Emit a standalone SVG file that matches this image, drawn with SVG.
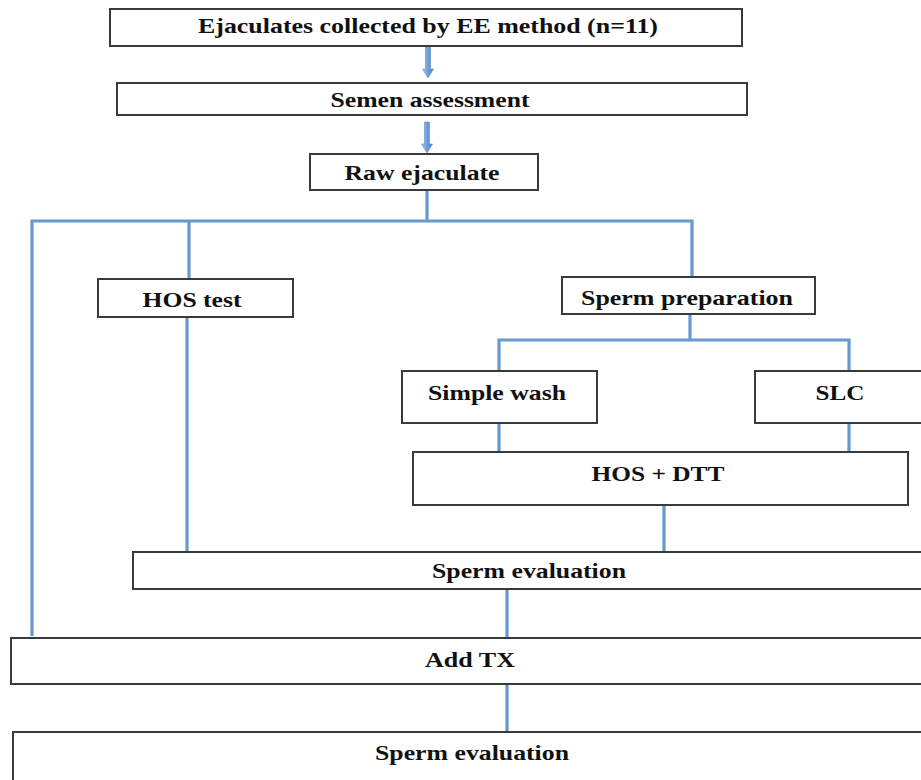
<svg xmlns="http://www.w3.org/2000/svg" xmlns:xlink="http://www.w3.org/1999/xlink" width="921" height="780" viewBox="0 0 921 780">
<style>
.box{fill:#ffffff;stroke:#3a3a3a;stroke-width:2}
.lbl{font-family:"Liberation Serif","Times New Roman",serif;font-weight:bold;font-size:21px;fill:#111111;text-anchor:middle}
.con{fill:none;stroke:#6699cc;stroke-width:3.2;stroke-linecap:butt;stroke-linejoin:miter}
</style>
<defs>
<linearGradient id="ag" x1="0" y1="0" x2="1" y2="0">
<stop offset="0" stop-color="#a9c8ea"/>
<stop offset="0.5" stop-color="#6e9fd8"/>
<stop offset="1" stop-color="#4f82c2"/>
</linearGradient>
<path id="blockArrow" d="M-2.5,0 L2.5,0 L2.5,22 L5.5,22 L0,31 L-5.5,22 L-2.5,22 Z" fill="url(#ag)" stroke="#5b8bc8" stroke-width="0.6"/>
</defs>
<rect width="921" height="780" fill="#ffffff"/>
<g id="connectors">
<use xlink:href="#blockArrow" x="428" y="47"/>
<use xlink:href="#blockArrow" x="427" y="122"/>
<polyline class="con" points="427,190 427,221"/>
<polyline class="con" points="32,636 32,221 692,221 692,277"/>
<polyline class="con" points="189,221 189,279"/>
<polyline class="con" points="187,317 187,552"/>
<polyline class="con" points="690,314 690,340"/>
<polyline class="con" points="499,371 499,340 849,340 849,371"/>
<polyline class="con" points="499,423 499,452"/>
<polyline class="con" points="849,423 849,452"/>
<polyline class="con" points="664,505 664,552"/>
<polyline class="con" points="507,589 507,638"/>
<polyline class="con" points="507,684 507,732"/>
</g>
<g id="n1"><rect class="box" x="110" y="9" width="632" height="37"/><text class="lbl" x="428" y="33" textLength="460" lengthAdjust="spacingAndGlyphs">Ejaculates collected by EE method (n=11)</text></g>
<g id="n2"><rect class="box" x="117" y="83" width="630" height="32"/><text class="lbl" x="430" y="107" textLength="199" lengthAdjust="spacingAndGlyphs">Semen assessment</text></g>
<g id="n3"><rect class="box" x="310" y="154" width="228" height="36"/><text class="lbl" x="422" y="180" textLength="155" lengthAdjust="spacingAndGlyphs">Raw ejaculate</text></g>
<g id="n4"><rect class="box" x="98" y="279" width="195" height="38"/><text class="lbl" x="192" y="307" textLength="99" lengthAdjust="spacingAndGlyphs">HOS test</text></g>
<g id="n5"><rect class="box" x="562" y="277" width="253" height="37"/><text class="lbl" x="687" y="305" textLength="212" lengthAdjust="spacingAndGlyphs">Sperm preparation</text></g>
<g id="n6"><rect class="box" x="402" y="371" width="195" height="52"/><text class="lbl" x="497" y="400" textLength="138" lengthAdjust="spacingAndGlyphs">Simple wash</text></g>
<g id="n7"><rect class="box" x="755" y="371" width="180" height="52"/><text class="lbl" x="840" y="400" textLength="49" lengthAdjust="spacingAndGlyphs">SLC</text></g>
<g id="n8"><rect class="box" x="413" y="452" width="495" height="53"/><text class="lbl" x="658" y="481" textLength="133" lengthAdjust="spacingAndGlyphs">HOS + DTT</text></g>
<g id="n9"><rect class="box" x="133" y="552" width="800" height="37"/><text class="lbl" x="529" y="578" textLength="194" lengthAdjust="spacingAndGlyphs">Sperm evaluation</text></g>
<g id="n10"><rect class="box" x="11" y="638" width="920" height="46"/><text class="lbl" x="470" y="667" textLength="90" lengthAdjust="spacingAndGlyphs">Add TX</text></g>
<g id="n11"><rect class="box" x="13" y="732" width="920" height="60"/><text class="lbl" x="472" y="760" textLength="194" lengthAdjust="spacingAndGlyphs">Sperm evaluation</text></g>
</svg>
